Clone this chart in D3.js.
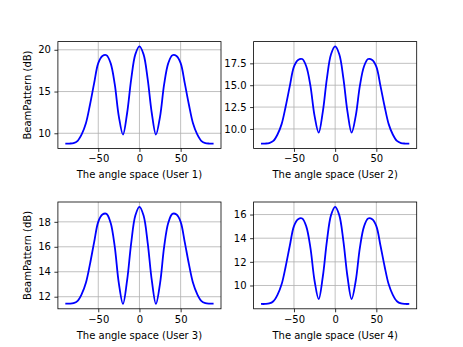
<!DOCTYPE html>
<html lang="en">
<head>
  <meta charset="UTF-8">
  <title>Beam patterns per user</title>
  <script src="https://d3js.org/d3.v7.min.js"></script>
  <style>
    * { margin: 0; padding: 0; }
    body { background: #fff; }
    svg { display: block; font-family: 'DejaVu Sans', sans-serif; }
    .tick-label { font-size: 10px; fill: #000; }
    .axis-label { font-size: 10px; fill: #000; }
  </style>
</head>
<body>
  <svg id="chart" width="463" height="347"></svg>

  <script>
    // angle grid (degrees)
    const angles = [-90, -85, -80, -75, -70, -65, -60, -55, -50, -45, -40, -35, -30, -25, -20, -15, -10, -5, 0,
                    5, 10, 15, 20, 25, 30, 35, 40, 45, 50, 55, 60, 65, 70, 75, 80, 85, 90];

    // beam pattern in dB
    const user1 = [8.77, 8.77, 8.82, 9.10, 9.90, 11.20, 13.45, 16.00, 18.40, 19.25, 19.35, 18.40, 15.88, 12.00, 9.84, 12.40, 16.49, 19.45, 20.40,
                   19.45, 16.49, 12.40, 9.84, 12.00, 15.88, 18.40, 19.35, 19.25, 18.40, 16.00, 13.45, 11.20, 9.90, 9.10, 8.82, 8.77, 8.77];
    const user2 = [8.33, 8.33, 8.38, 8.63, 9.36, 10.55, 12.60, 14.93, 17.12, 17.89, 17.99, 17.14, 14.92, 11.49, 9.58, 11.96, 15.79, 18.54, 19.43,
                   18.54, 15.79, 11.96, 9.58, 11.49, 14.92, 17.14, 17.99, 17.89, 17.12, 14.93, 12.60, 10.55, 9.36, 8.63, 8.38, 8.33, 8.33];
    const user3 = [11.45, 11.45, 11.49, 11.67, 12.22, 13.11, 14.63, 16.37, 18.00, 18.58, 18.64, 17.92, 16.01, 13.06, 11.42, 13.30, 16.32, 18.50, 19.20,
                   18.50, 16.32, 13.30, 11.42, 13.06, 16.01, 17.92, 18.64, 18.58, 18.00, 16.37, 14.63, 13.11, 12.22, 11.67, 11.49, 11.45, 11.45];
    const user4 = [8.44, 8.44, 8.48, 8.67, 9.21, 10.10, 11.63, 13.38, 15.02, 15.60, 15.67, 14.98, 13.18, 10.40, 8.85, 10.74, 13.76, 15.95, 16.65,
                   15.95, 13.76, 10.74, 8.85, 10.40, 13.18, 14.98, 15.67, 15.60, 15.02, 13.38, 11.63, 10.10, 9.21, 8.67, 8.48, 8.44, 8.44];

    // tick labels
    const xTicks = [-50, 0, 50];
    const yTicks1 = [10, 15, 20];
    const yTicks2 = [10, 12.5, 15, 17.5];
    const yTicks3 = [12, 14, 16, 18];
    const yTicks4 = [10, 12, 14, 16];

    const userNames = ["User 1", "User 2", "User 3", "User 4"];

    const svg = d3.select("#chart");

    const colLeft = [57.9, 253.6];
    const rowTop = [41.6, 202.0];
    const plotW = 163.1;
    const plotH = 106.8;

    const panels = [
      { values: user1, ticks: yTicks1, fmt: d3.format("d"), col: 0, row: 0, ylabel: true },
      { values: user2, ticks: yTicks2, fmt: d3.format(".1f"), col: 1, row: 0, ylabel: false },
      { values: user3, ticks: yTicks3, fmt: d3.format("d"), col: 0, row: 1, ylabel: true },
      { values: user4, ticks: yTicks4, fmt: d3.format("d"), col: 1, row: 1, ylabel: false }
    ];

    panels.forEach((p, i) => {
      const x0 = colLeft[p.col];
      const y0 = rowTop[p.row];
      const g = svg.append("g").attr("transform", `translate(${x0},${y0})`);

      // matplotlib-style 5% margins
      const xPad = (d3.max(angles) - d3.min(angles)) * 0.05;
      const x = d3.scaleLinear()
        .domain([d3.min(angles) - xPad, d3.max(angles) + xPad])
        .range([0, plotW]);
      const yMin = d3.min(p.values), yMax = d3.max(p.values);
      const yPad = (yMax - yMin) * 0.05;
      const y = d3.scaleLinear()
        .domain([yMin - yPad, yMax + yPad])
        .range([plotH, 0]);

      // grid
      g.append("g").selectAll("line").data(xTicks).enter().append("line")
        .attr("x1", d => x(d)).attr("x2", d => x(d))
        .attr("y1", 0).attr("y2", plotH)
        .attr("stroke", "#b0b0b0").attr("stroke-width", 0.8);
      g.append("g").selectAll("line").data(p.ticks).enter().append("line")
        .attr("x1", 0).attr("x2", plotW)
        .attr("y1", d => y(d)).attr("y2", d => y(d))
        .attr("stroke", "#b0b0b0").attr("stroke-width", 0.8);

      // curve
      const line = d3.line()
        .x((d, k) => x(angles[k]))
        .y(d => y(d))
        .curve(d3.curveCatmullRom.alpha(0.5));
      g.append("path")
        .datum(p.values)
        .attr("d", line)
        .attr("fill", "none")
        .attr("stroke", "#0000ff")
        .attr("stroke-width", 1.8);

      // axes
      const xAxis = d3.axisBottom(x).tickValues(xTicks).tickSize(3.5).tickPadding(3.5)
        .tickFormat(d => d < 0 ? "\u2212" + Math.abs(d) : String(d));
      const yAxis = d3.axisLeft(y).tickValues(p.ticks).tickSize(3.5).tickPadding(3.5)
        .tickFormat(p.fmt);

      const xa = g.append("g").attr("transform", `translate(0,${plotH})`).call(xAxis);
      const ya = g.append("g").call(yAxis);
      [xa, ya].forEach(a => {
        a.select(".domain").remove();
        a.selectAll(".tick line").attr("stroke", "#000").attr("stroke-width", 0.8);
        a.selectAll(".tick text").attr("class", "tick-label")
          .style("font-family", "'DejaVu Sans', sans-serif").style("font-size", "10px");
      });

      // frame
      g.append("rect")
        .attr("width", plotW).attr("height", plotH)
        .attr("fill", "none").attr("stroke", "#000").attr("stroke-width", 0.8);

      g.append("text")
        .attr("class", "axis-label")
        .attr("x", plotW / 2).attr("y", plotH + 30)
        .attr("text-anchor", "middle")
        .text(`The angle space (${userNames[i]})`);

      if (p.ylabel) {
        g.append("text")
          .attr("class", "axis-label")
          .attr("transform", `translate(${-29.6},${plotH / 2}) rotate(-90)`)
          .attr("text-anchor", "middle")
          .attr("dominant-baseline", "middle")
          .text("BeamPattern (dB)");
      }
    });
  </script>
</body>
</html>
